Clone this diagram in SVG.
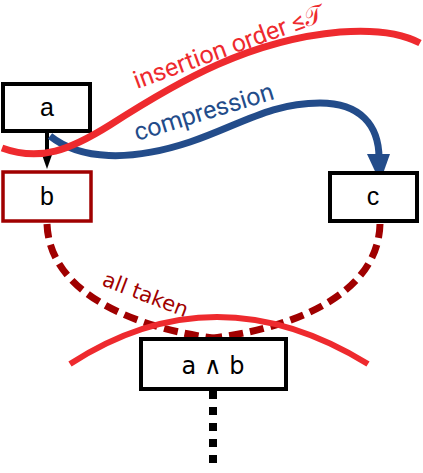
<svg xmlns="http://www.w3.org/2000/svg" width="423" height="473" viewBox="0 0 423 473">
<defs>
<style>
.box{fill:#fff;stroke:#000;stroke-width:4}
.boxr{fill:#fff;stroke:#a00000;stroke-width:3.5}
.lbl{font-family:"Liberation Sans",Arial,sans-serif;font-size:25px;fill:#000;text-anchor:middle}
.dash{fill:none;stroke:#a00000;stroke-width:7;stroke-dasharray:14 7}
</style>
</defs>
<rect width="423" height="473" fill="#fff"/>
<g id="connectors">
<path class="dash" d="M47,224 C50,300 150,330 213,338"/>
<path class="dash" d="M380,224 C378,300 280,330 213,338"/>
<line x1="213" y1="391" x2="213" y2="466" stroke="#000" stroke-width="8" stroke-dasharray="8 8"/>
<line x1="47" y1="133" x2="47" y2="155" stroke="#000" stroke-width="4"/>
<path d="M41,152 L53,152 L47,169 Z" fill="#000"/>
<path d="M50,136 C80,160 130,162 190,142 C240,125 270,103 320,103 C360,103 379,125 379,158" fill="none" stroke="#234c8a" stroke-width="7"/>
<path d="M367,154 L390,154 L380,182 Z" fill="#234c8a"/>
</g>
<g id="a"><rect class="box" x="3" y="84" width="87" height="47"/><text class="lbl" x="47" y="116">a</text></g>
<g id="b"><rect class="boxr" x="3" y="172" width="88" height="49"/><text class="lbl" x="47" y="205">b</text></g>
<g id="c"><rect class="box" x="330" y="173" width="87" height="48"/><text class="lbl" x="373" y="205">c</text></g>
<g id="ab_node"><rect class="box" x="141" y="339" width="145" height="50"/><text x="213" y="374" font-family="DejaVu Sans,sans-serif" font-size="24" text-anchor="middle">a ∧ b</text></g>
<g id="cuts">
<path d="M2,148 C40,162 70,150 110,125 C180,80 250,40 340,32 C380,29 405,35 420,43" fill="none" stroke="#ee2a2e" stroke-width="7"/>
<path d="M70,364 Q215,270 368,364" fill="none" stroke="#ee2a2e" stroke-width="6"/>
</g>
<text x="137" y="89" transform="rotate(-20 137 89)" font-family="Roboto,sans-serif" font-size="25" fill="#ee2a2e">insertion order ≤<tspan font-family="DejaVu Serif,serif">𝒯</tspan></text>
<text x="137" y="141" transform="rotate(-17 137 141)" font-family="Roboto,sans-serif" font-size="25" fill="#234c8a">compression</text>
<text x="101" y="285" transform="rotate(21 101 285)" font-family="DejaVu Sans,sans-serif" font-size="21" fill="#a00000">all taken</text>
</svg>
